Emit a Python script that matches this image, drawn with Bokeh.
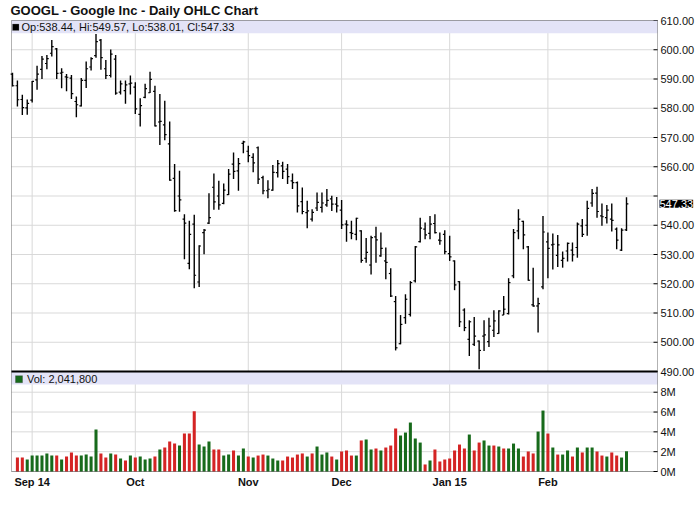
from bokeh.plotting import figure
from bokeh.models import Range1d, BoxAnnotation, Label, ColumnDataSource
from bokeh.core.properties import value
from bokeh.embed import file_html
from bokeh.resources import INLINE

# ---------------- data ----------------
opens = [591.7, 587.7, 583.0, 580.1, 582.8, 589.7, 593.3, 595.3, 598.8, 600.3,
         592.0, 590.7, 590.3, 582.3, 580.8, 589.5, 594.1, 598.0, 603.3, 593.5,
         591.2, 596.8, 585.5, 586.0, 588.3, 587.2, 577.9, 583.7, 585.3, 585.8,
         575.3, 574.3, 567.8, 556.0, 550.0, 542.1, 527.0, 540.4, 520.6, 537.5,
         540.7, 553.0, 550.0, 547.5, 550.5, 560.9, 558.6, 568.0, 565.3, 563.2,
         566.5, 556.3, 551.8, 552.0, 558.0, 560.3, 559.2, 555.2, 554.6, 548.1,
         544.3, 542.1, 545.9, 546.1, 547.0, 549.0, 547.2, 545.2, 540.4, 537.5,
         536.9, 538.1, 528.7, 526.4, 536.0, 529.5, 527.8, 523.5, 513.9, 499.5,
         508.4, 509.5, 521.0, 534.4, 538.7, 537.2, 540.6, 534.9, 536.9, 530.3,
         527.8, 520.7, 511.0, 501.0, 499.3, 500.4, 502.1, 500.2, 504.1, 503.0,
         509.3, 509.8, 522.7, 538.1, 541.3, 532.6, 512.8, 512.4, 518.9, 534.3,
         533.3, 529.7, 528.0, 531.2, 531.5, 532.4, 539.8, 540.0, 547.6, 551.0,
         543.2, 542.6, 542.1, 538.7, 531.5, 538.44]
highs = [592.1, 589.5, 584.6, 583.0, 589.3, 594.5, 597.9, 598.2, 603.3, 600.6,
         593.7, 591.7, 591.4, 584.0, 590.3, 596.0, 597.4, 605.4, 603.7, 596.5,
         600.1, 598.2, 589.5, 589.5, 591.2, 588.9, 583.4, 588.4, 592.5, 587.7,
         584.9, 582.6, 575.5, 560.9, 558.6, 543.8, 541.5, 543.6, 533.2, 538.7,
         550.9, 557.7, 555.2, 554.3, 559.2, 564.9, 563.0, 568.9, 567.2, 564.6,
         566.9, 556.9, 555.4, 560.6, 562.3, 561.7, 560.9, 557.7, 555.0, 552.9,
         548.4, 545.5, 551.2, 551.2, 552.4, 550.1, 549.7, 548.6, 541.7, 541.5,
         542.6, 538.3, 535.6, 536.4, 539.5, 537.5, 532.4, 525.3, 515.8, 509.3,
         516.4, 520.9, 532.9, 542.6, 540.9, 543.2, 543.8, 537.5, 538.3, 536.4,
         528.0, 520.9, 511.6, 507.5, 508.6, 500.6, 507.5, 508.4, 510.9, 510.9,
         515.8, 521.9, 538.7, 545.5, 541.5, 532.9, 525.5, 515.2, 543.2, 537.5,
         537.2, 536.7, 531.0, 534.1, 534.1, 540.9, 542.1, 548.4, 552.4, 553.2,
         547.4, 546.9, 547.4, 539.2, 539.0, 549.57]
lows = [587.4, 580.6, 577.7, 577.8, 582.0, 586.3, 590.0, 593.3, 597.7, 590.0,
        586.8, 585.8, 583.2, 576.9, 580.6, 586.9, 592.9, 597.3, 593.2, 590.0,
        590.5, 584.6, 584.7, 581.5, 584.7, 578.0, 573.8, 583.4, 585.2, 573.8,
        567.4, 569.1, 555.2, 544.6, 544.6, 528.4, 525.0, 518.5, 518.9, 530.1,
        540.4, 545.3, 545.3, 547.2, 550.3, 555.8, 551.8, 564.6, 561.5, 558.1,
        554.1, 550.6, 549.2, 551.8, 556.3, 555.8, 554.1, 552.4, 544.4, 543.8,
        539.0, 541.3, 544.9, 544.4, 546.3, 544.9, 544.4, 538.7, 534.4, 535.2,
        534.9, 527.2, 527.2, 523.2, 527.2, 529.2, 521.5, 515.5, 497.2, 499.3,
        506.3, 508.8, 520.4, 534.1, 535.2, 535.2, 537.2, 533.3, 530.1, 527.8,
        517.8, 505.2, 503.8, 495.3, 498.7, 490.8, 497.0, 498.4, 501.8, 502.9,
        509.3, 509.5, 521.9, 535.2, 531.8, 521.0, 512.1, 503.3, 518.1, 521.9,
        524.9, 525.7, 525.5, 527.6, 527.6, 528.9, 536.0, 536.4, 546.3, 542.6,
        539.8, 540.6, 537.9, 531.8, 531.2, 538.01]
closes = [587.7, 582.9, 580.2, 581.7, 589.2, 591.7, 596.8, 597.0, 601.1, 591.9,
          592.3, 590.6, 585.0, 581.2, 589.5, 593.5, 597.0, 602.8, 597.3, 591.2,
          598.5, 585.2, 588.3, 588.0, 588.6, 579.8, 580.9, 586.7, 589.9, 574.0,
          575.5, 571.0, 555.4, 545.0, 548.7, 540.7, 536.9, 522.9, 532.9, 538.3,
          542.6, 548.0, 547.0, 552.0, 557.5, 558.4, 561.1, 568.5, 563.8, 561.3,
          555.8, 551.8, 552.3, 558.1, 561.1, 558.4, 556.6, 554.6, 546.6, 544.7,
          544.9, 544.4, 547.8, 547.6, 548.5, 547.2, 546.6, 540.1, 540.1, 537.2,
          542.4, 528.0, 530.7, 535.8, 535.0, 532.1, 527.3, 515.8, 498.1, 506.1,
          514.7, 520.4, 532.6, 539.0, 536.7, 540.4, 537.5, 534.7, 531.0, 529.2,
          519.6, 507.0, 505.0, 507.0, 502.1, 497.2, 502.5, 505.5, 507.3, 510.7,
          511.3, 520.4, 537.5, 542.1, 536.7, 521.2, 512.4, 513.2, 537.7, 532.1,
          533.5, 533.3, 528.7, 533.8, 529.9, 540.4, 536.9, 545.8, 550.9, 544.7,
          542.9, 545.2, 541.7, 534.9, 538.3, 547.33]
# volume in millions of shares (first bar's volume is hidden behind the axis)
volume_m = [float("nan"),
            1.41, 1.41, 1.21, 1.61, 1.61, 1.61, 1.82, 1.61, 1.61, 1.21,
            1.51, 1.92, 1.61, 1.61, 1.71, 1.51, 4.24, 1.82, 1.41, 1.82,
            1.71, 1.31, 1.11, 1.61, 1.41, 1.51, 1.21, 1.31, 1.51, 2.22,
            2.42, 3.03, 2.82, 2.62, 3.83, 3.83, 6.08, 2.72, 2.52, 3.03,
            2.22, 2.22, 1.61, 1.71, 2.12, 1.61, 2.32, 1.51, 1.41, 1.61,
            1.71, 1.61, 1.31, 1.11, 1.11, 1.51, 1.41, 1.71, 1.82, 1.51,
            1.82, 2.52, 1.71, 1.92, 1.51, 1.21, 2.02, 2.12,
            1.61, 1.61, 3.13, 3.23, 2.22, 2.32, 2.12, 2.42, 2.62, 4.34,
            3.63, 3.93, 4.94, 3.33, 2.92, 0.71, 1.11, 2.22, 1.01, 1.21,
            1.31, 2.12, 2.72, 2.32, 3.73, 2.12, 2.92, 3.13, 2.62, 2.62,
            2.52, 2.32, 2.32, 2.82, 2.32, 1.51, 2.02, 1.82, 4.03, 6.15,
            3.83, 2.42, 1.71, 1.71, 2.12, 1.51, 2.42, 1.92, 2.42, 2.42,
            2.02, 1.61, 1.51, 1.92, 1.61, 1.41, 2.0418]
# 1 = up day (green volume bar), 0 = down day (red)
vol_up = [1,
          0, 0, 1, 1, 1, 1, 1, 1, 0, 1,
          0, 0, 0, 1, 1, 1, 1, 0, 0, 1,
          0, 1, 0, 1, 0, 1, 1, 1, 0, 1,
          0, 0, 0, 1, 0, 0, 0, 1, 1, 1,
          0, 0, 1, 1, 0, 1, 1, 0, 1, 0,
          0, 1, 1, 1, 0, 0, 0, 0, 0, 1,
          0, 1, 1, 1, 0, 1, 0, 0,
          0, 1, 0, 1, 1, 0, 1, 0, 0, 0,
          1, 1, 1, 1, 1, 0, 1, 0, 0, 0,
          0, 0, 0, 0, 1, 0, 0, 1, 1, 0,
          1, 0, 1, 1, 1, 0, 0, 0, 1, 1,
          0, 1, 0, 1, 1, 0, 1, 0, 1, 1,
          0, 0, 1, 0, 0, 1, 1]
month_ticks = [4, 25, 48, 67, 89, 109]
month_labels = ["Sep 14", "Oct", "Nov", "Dec", "Jan 15", "Feb"]
price_ticks = [490, 500, 510, 520, 530, 540, 550, 560, 570, 580, 590, 600, 610]
volume_ticks = [0, 2e6, 4e6, 6e6, 8e6]
title_text = "GOOGL - Google Inc - Daily OHLC Chart"

# ---------------- layout (canvas px; the whole canvas is the plotting frame) ----------------
W, H = 700, 496
X_LEFT, X_AXIS = 11, 657          # plot box left edge, right value-axis line
Y_TOP, Y_SEP, Y_BOT = 20, 371, 471  # price top (610), panel separator (490), volume zero
BAR0_PX, PX_PER_BAR = 12, 4.912
P_MIN, P_MAX = 490.0, 610.0
V_PANEL_MAX = 10.09e6             # volume at the separator line


def xd(xpix):      # canvas column -> bar-index coordinate
    return (xpix - BAR0_PX) / PX_PER_BAR


def py(ypix):      # canvas row -> price coordinate
    return P_MAX - (ypix - Y_TOP) * (P_MAX - P_MIN) / (Y_SEP - Y_TOP)


def pv(ypix):      # canvas row -> volume coordinate
    return (Y_BOT - ypix) * V_PANEL_MAX / (Y_BOT - Y_SEP)


def vol_row(v):    # volume value -> canvas row
    return Y_BOT - v * (Y_BOT - Y_SEP) / V_PANEL_MAX


FONT = "Liberation Sans"
GREEN = "#176a1b"
RED = "#d42424"
BAND = "#e3e3f7"
GRID = "#d9d9d9"
INK = "#111111"

xl, xa = xd(X_LEFT), xd(X_AXIS)
ybot = py(Y_BOT)
px = 1.0 / PX_PER_BAR

n = len(closes)
idx = list(range(n))
src = ColumnDataSource(dict(
    x=idx, o=opens, h=highs, l=lows, c=closes,
    xl=[i - 0.38 for i in idx], xr=[i + 0.38 for i in idx],
    v=[m * 1e6 for m in volume_m],
    col=[GREEN if u else RED for u in vol_up],
))

p = figure(width=W, height=H, x_range=Range1d(xd(0), xd(W)), y_range=Range1d(py(H), py(0)),
           x_axis_location=None, y_axis_location=None,
           output_backend="svg", toolbar_location=None, title=None,
           min_border_left=0, min_border_right=0, min_border_top=0, min_border_bottom=0,
           background_fill_color="white", border_fill_color="white", outline_line_color=None)
p.extra_y_ranges = {"vol": Range1d(pv(H), pv(0))}
for g in list(p.xgrid) + list(p.ygrid):
    g.visible = False

# tick positions of the value axis (price panel + volume panel), in price coordinates
axis_y = price_ticks + [py(vol_row(v)) for v in volume_ticks]
axis_txt = [f"{t:.2f}" for t in price_ticks] + [f"{v / 1e6:.0f}M" for v in volume_ticks]

# grid lines
p.segment(x0=[xl] * len(axis_y), x1=[xa] * len(axis_y), y0=axis_y, y1=axis_y,
          line_color=GRID, line_width=1)
p.segment(x0=month_ticks, x1=month_ticks, y0=[ybot] * len(month_ticks),
          y1=[P_MAX] * len(month_ticks), line_color=GRID, line_width=1)

# volume bars
p.vbar(x="x", top="v", bottom=0, width=0.62, fill_color="col", line_color=None,
       source=src, y_range_name="vol")

# OHLC bars
p.segment(x0="x", y0="l", x1="x", y1="h", line_color="black", line_width=1.4, source=src)
p.segment(x0="xl", y0="o", x1="x", y1="o", line_color="black", line_width=1.2, source=src)
p.segment(x0="x", y0="c", x1="xr", y1="c", line_color="black", line_width=1.2, source=src)

# legend bands
p.add_layout(BoxAnnotation(left=xl, right=xa, top=P_MAX, bottom=py(32.7), fill_color=BAND,
                           fill_alpha=1, line_color=None))
p.add_layout(BoxAnnotation(left=xl, right=xa, top=P_MIN, bottom=py(384), fill_color=BAND,
                           fill_alpha=1, line_color=None))

# plot box, panel separator, value-axis ticks
p.add_layout(BoxAnnotation(left=xl, right=xa, top=P_MAX, bottom=ybot, fill_alpha=0,
                           line_color="black", line_width=1))
p.add_layout(BoxAnnotation(left=xl, right=xa, top=py(Y_SEP - 1), bottom=py(Y_SEP + 1),
                           fill_color="black", fill_alpha=1, line_color=None))
p.segment(x0=[xa - 4 * px] * len(axis_y), x1=[xa] * len(axis_y), y0=axis_y, y1=axis_y,
          line_color="black", line_width=1)

# value-axis labels (the one under the last-price marker is hidden, as in the original)
shown = [i for i, y in enumerate(axis_y) if abs(y - closes[-1]) > 3.5]
p.text(x=[xd(660)] * len(shown), y=[axis_y[i] for i in shown],
       text=[axis_txt[i] for i in shown], text_font=value(FONT), text_font_size="11px",
       text_color=INK, text_baseline="middle", text_align="left")

# month labels
p.text(x=month_ticks, y=[py(481)] * len(month_ticks), text=month_labels,
       text_font=value(FONT), text_font_size="11px", text_font_style="bold",
       text_color=INK, text_baseline="middle", text_align="center")

# title
p.add_layout(Label(x=xd(10), y=py(9.5), text=title_text, text_font=FONT,
                   text_font_size="13px", text_font_style="bold", text_color=INK,
                   text_baseline="middle"))

# legends
p.add_layout(BoxAnnotation(left=xd(12), right=xd(18.5), top=py(23.5), bottom=py(30),
                           fill_color="black", fill_alpha=1, line_color="#777777",
                           line_width=1))
p.add_layout(Label(x=xd(21), y=py(26.5),
                   text=f"Op:{opens[-1]:.2f}, Hi:{highs[-1]:.2f}, Lo:{lows[-1]:.2f}, Cl:{closes[-1]:.2f}",
                   text_font=FONT, text_font_size="11px", text_color=INK,
                   text_baseline="middle"))
p.add_layout(BoxAnnotation(left=xd(15), right=xd(22), top=py(375.2), bottom=py(382.2),
                           fill_color=GREEN, fill_alpha=1, line_color="#333333", line_width=1))
p.add_layout(Label(x=xd(26.5), y=py(378.3), text=f"Vol: {volume_m[-1] * 1e6:,.0f}",
                   text_font=FONT, text_font_size="11px", text_color=INK,
                   text_baseline="middle"))

# last price marker on the value axis
p.add_layout(Label(x=xd(659), y=closes[-1], text=f"{closes[-1]:.2f}",
                   text_font=FONT, text_font_size="11px", text_color="white",
                   text_baseline="middle", background_fill_color="black",
                   background_fill_alpha=1))

open("out.html", "w").write(file_html(p, INLINE))
